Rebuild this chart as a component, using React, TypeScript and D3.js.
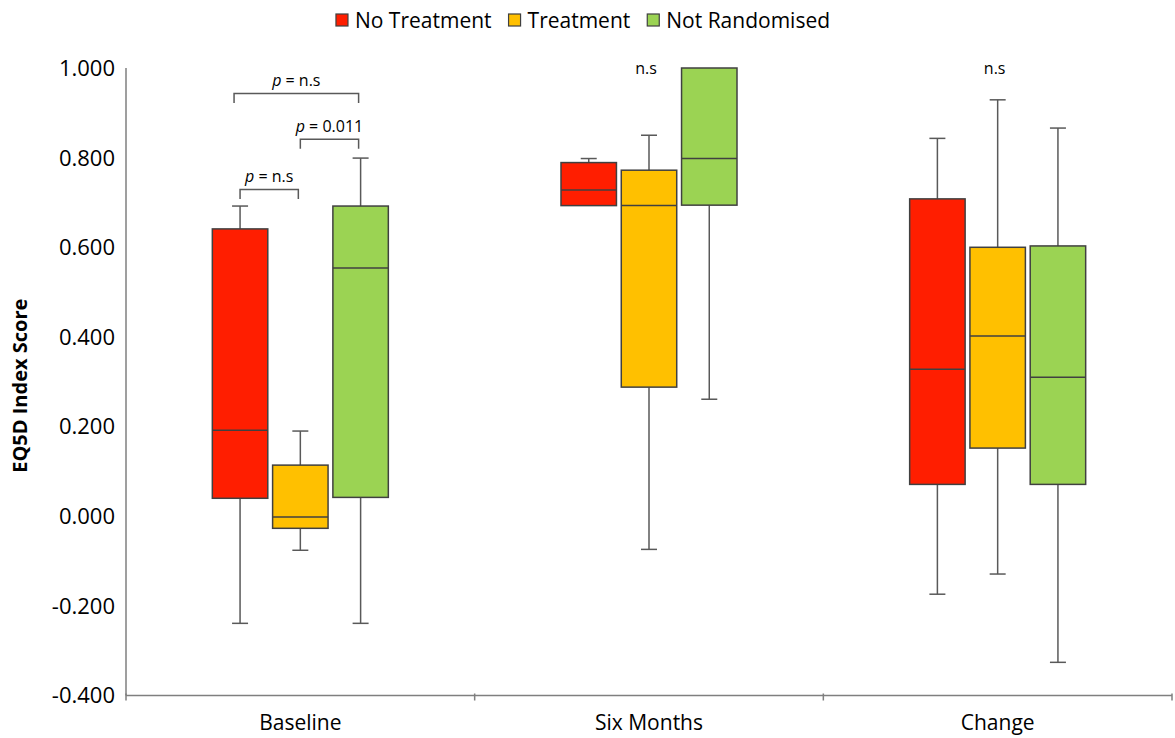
import { useEffect, useRef } from 'react';
import * as d3 from 'd3';

const CATEGORIES = ['Baseline', 'Six Months', 'Change'];
const SERIES = ['No Treatment', 'Treatment', 'Not Randomised'];
const COLORS = ['#FF1E00', '#FFC000', '#9BD353'];

// [min, q1, median, q3, max] for each category
const NO_TREATMENT = [
  [-0.239, 0.040, 0.192, 0.641, 0.692],
  [0.693, 0.693, 0.728, 0.789, 0.798],
  [-0.174, 0.071, 0.328, 0.708, 0.843],
];
const TREATMENT = [
  [-0.076, -0.027, -0.002, 0.114, 0.190],
  [-0.074, 0.288, 0.693, 0.772, 0.850],
  [-0.129, 0.152, 0.402, 0.600, 0.929],
];
const NOT_RANDOMISED = [
  [-0.239, 0.042, 0.554, 0.692, 0.799],
  [0.261, 0.694, 0.798, 1.000, 1.000],
  [-0.326, 0.071, 0.310, 0.603, 0.866],
];
const SERIES_VALUES = [NO_TREATMENT, TREATMENT, NOT_RANDOMISED];

const Y_TICKS = [-0.4, -0.2, 0, 0.2, 0.4, 0.6, 0.8, 1.0];

// significance brackets in the Baseline group: series index from/to, bracket height, p label
const BRACKETS = [
  { from: 0, to: 2, y: 0.943, label: 'n.s', inset: -6 },
  { from: 1, to: 2, y: 0.841, label: '0.011', inset: 0 },
  { from: 0, to: 1, y: 0.729, label: 'n.s', inset: 0 },
];
const GROUP_NOTES = [{ category: 'Six Months', text: 'n.s' }, { category: 'Change', text: 'n.s' }];

const FONT = '"Open Sans", sans-serif';

export default function App() {
  const svgRef = useRef<SVGSVGElement>(null);

  useEffect(() => {
    document.body.style.margin = '0';
    const width = 1175, height = 738;
    const margin = { top: 68, right: 3, bottom: 42.5, left: 126 };
    const svg = d3.select(svgRef.current!);
    svg.selectAll('*').remove();

    const y = d3.scaleLinear().domain([-0.4, 1.0]).range([height - margin.bottom, margin.top]);
    const x = d3.scaleBand().domain(CATEGORIES).range([margin.left, width - margin.right]).padding(0);
    const sub = d3.scaleBand().domain(SERIES).range([-88, 88]).paddingInner(0.08);
    const bw = sub.bandwidth();
    const capW = 16;
    const stroke = '#404040';

    // axes
    svg.append('line')
      .attr('x1', margin.left).attr('x2', margin.left)
      .attr('y1', y(1.0)).attr('y2', y(-0.4))
      .attr('stroke', '#7f7f7f').attr('stroke-width', 1.5);
    svg.append('line')
      .attr('x1', margin.left).attr('x2', width - margin.right)
      .attr('y1', y(-0.4)).attr('y2', y(-0.4))
      .attr('stroke', '#7f7f7f').attr('stroke-width', 1.5);
    const bounds = [margin.left, ...CATEGORIES.map((c) => x(c)! + x.bandwidth())];
    bounds.forEach((bx) => {
      svg.append('line')
        .attr('x1', bx).attr('x2', bx)
        .attr('y1', y(-0.4) - 2).attr('y2', y(-0.4) + 5)
        .attr('stroke', '#7f7f7f').attr('stroke-width', 1.5);
    });

    const fmt = (v: number) => d3.format('.3f')(v).replace('\u2212', '-');
    svg.append('g').selectAll('text').data(Y_TICKS).join('text')
      .attr('x', 115).attr('y', (d) => y(d)).attr('dy', '0.36em')
      .attr('text-anchor', 'end').attr('font-family', FONT).attr('font-size', 22).attr('fill', '#000')
      .text((d) => fmt(d));

    svg.append('g').selectAll('text').data(CATEGORIES).join('text')
      .attr('x', (d) => x(d)! + x.bandwidth() / 2).attr('y', 730)
      .attr('text-anchor', 'middle').attr('font-family', FONT).attr('font-size', 21).attr('fill', '#000')
      .text((d) => d);

    svg.append('text')
      .attr('transform', `translate(27,${(y(1) + y(-0.4)) / 2 + 4}) rotate(-90)`)
      .attr('text-anchor', 'middle').attr('font-family', FONT).attr('font-weight', 700)
      .attr('font-size', 20).attr('fill', '#000')
      .text('EQ5D Index Score');

    // boxes
    SERIES.forEach((s, si) => {
      CATEGORIES.forEach((c, ci) => {
        const [mn, q1, med, q3, mx] = SERIES_VALUES[si][ci];
        const cx = x(c)! + x.bandwidth() / 2 + sub(s)! + bw / 2;
        const g = svg.append('g');
        const whisker = (from: number, to: number) => {
          if (from === to) return;
          g.append('line').attr('x1', cx).attr('x2', cx).attr('y1', y(from)).attr('y2', y(to))
            .attr('stroke', '#595959').attr('stroke-width', 1.5);
          g.append('line').attr('x1', cx - capW / 2).attr('x2', cx + capW / 2).attr('y1', y(to)).attr('y2', y(to))
            .attr('stroke', '#595959').attr('stroke-width', 1.5);
        };
        whisker(q3, mx);
        whisker(q1, mn);
        g.append('rect')
          .attr('x', cx - bw / 2).attr('width', bw)
          .attr('y', y(q3)).attr('height', y(q1) - y(q3))
          .attr('fill', COLORS[si]).attr('stroke', stroke).attr('stroke-width', 1.5);
        g.append('line')
          .attr('x1', cx - bw / 2).attr('x2', cx + bw / 2).attr('y1', y(med)).attr('y2', y(med))
          .attr('stroke', stroke).attr('stroke-width', 1.5);
      });
    });

    // significance brackets
    const baseCx = (si: number) => x('Baseline')! + x.bandwidth() / 2 + sub(SERIES[si])! + bw / 2;
    BRACKETS.forEach((b) => {
      const x1 = baseCx(b.from) + b.inset;
      const x2 = baseCx(b.to) - 2;
      const by = y(b.y);
      svg.append('path')
        .attr('d', `M${x1},${by + 9.5}V${by}H${x2}V${by + 9.5}`)
        .attr('fill', 'none').attr('stroke', '#595959').attr('stroke-width', 1.5);
      const t = svg.append('text')
        .attr('x', (x1 + x2) / 2).attr('y', by - 7.5)
        .attr('text-anchor', 'middle').attr('font-family', FONT).attr('font-size', 16).attr('fill', '#000');
      t.append('tspan').attr('font-style', 'italic').text('p');
      t.append('tspan').text(` = ${b.label}`);
    });

    GROUP_NOTES.forEach((n) => {
      svg.append('text')
        .attr('x', x(n.category)! + x.bandwidth() / 2 - 3).attr('y', 74)
        .attr('text-anchor', 'middle').attr('font-family', FONT).attr('font-size', 16).attr('fill', '#000')
        .text(n.text);
    });

    // legend
    const legend = svg.append('g');
    let lx = 0;
    SERIES.forEach((s, si) => {
      const item = legend.append('g').attr('transform', `translate(${lx},0)`);
      item.append('rect').attr('x', 0).attr('y', 14).attr('width', 12).attr('height', 12)
        .attr('fill', COLORS[si]).attr('stroke', stroke).attr('stroke-width', 1.2);
      const t = item.append('text').attr('x', 19).attr('y', 28)
        .attr('font-family', FONT).attr('font-size', 21).attr('fill', '#000').text(s);
      lx += 19 + (t.node() as SVGTextElement).getComputedTextLength() + 17;
    });
    const legendW = lx - 17;
    legend.attr('transform', `translate(${583 - legendW / 2},0)`);
  }, []);

  return <svg ref={svgRef} width={1175} height={738} style={{ display: 'block', background: '#fff' }} />;
}
